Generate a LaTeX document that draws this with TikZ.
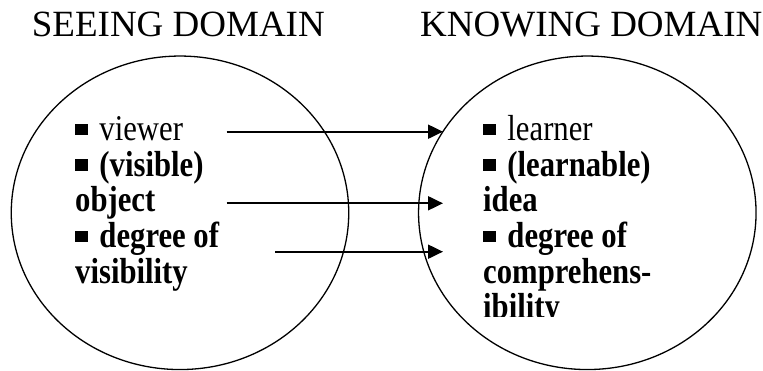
\documentclass[tikz,border=0pt]{standalone}
\usepackage{fontspec}
\setmainfont{Liberation Serif}
\usetikzlibrary{shapes.geometric, arrows.meta}

% small filled square used as the list bullet
\newcommand\sqbullet{\raisebox{0.15em}{\rule{0.42em}{0.32em}}\hspace{0.37em}}
% stack of lines with a fixed baseline distance, stretched vertically
\newcommand\stretchedlines[1]{\scalebox{1}[1.18]{\vtop{\baselineskip=30.2pt\lineskiplimit=-100pt\lineskip=0pt #1}}}

\tikzset{
  domainoval/.style={ellipse, draw, line width=1.3pt, inner sep=0pt,
                 minimum width=337.5pt, minimum height=313.5pt},
  heading/.style={anchor=base west, inner sep=0pt, font=\fontsize{37}{40}\selectfont},
  items/.style={anchor=base west, inner sep=0pt, font=\fontsize{30.7}{30.2}\selectfont},
  conn/.style={line width=2pt, -{Triangle[length=15pt, width=14pt]}}
}

\begin{document}
\begin{tikzpicture}[x=1pt, y=-1pt]
  \useasboundingbox (0,0) rectangle (763,371);

  % headings
  \node[heading] (seetitle) at (31.7,36.7) {SEEING DOMAIN};
  \node[heading] (knowtitle) at (420,36.7) {KNOWING DOMAIN};

  % the two domains
  \node[domainoval] (seeing) at (180,212.8) {};
  \node[domainoval] (knowing) at (587.3,212.8) {};

  % seeing domain terms
  \node[items] (seeitems) at (75,140.7) {\stretchedlines{%
    \hbox{\sqbullet viewer}%
    \hbox{\sqbullet\textbf{(visible)}}%
    \hbox{\textbf{object}}%
    \hbox{\sqbullet\textbf{degree of}}%
    \hbox{\textbf{visibility}}}};

  % knowing domain terms, cut off at the bottom of their frame
  \begin{scope}
    \clip (400,0) rectangle (763,316.7);
    \node[items] (knowitems) at (483,140.7) {\stretchedlines{%
      \hbox{\sqbullet learner}%
      \hbox{\sqbullet\textbf{(learnable)}}%
      \hbox{\textbf{idea}}%
      \hbox{\sqbullet\textbf{degree of}}%
      \hbox{\textbf{comprehens-}}%
      \hbox{\textbf{ibility}}}};
  \end{scope}

  % mapping arrows
  \coordinate (viewerout) at (226.7,131.7);
  \coordinate (learnerin) at (443,131.7);
  \coordinate (objectout) at (226.7,203.3);
  \coordinate (ideain) at (443,203.3);
  \coordinate (degreeout) at (275,251.7);
  \coordinate (degreein) at (443,251.7);
  \draw[conn] (viewerout) -- (learnerin);
  \draw[conn] (objectout) -- (ideain);
  \draw[conn] (degreeout) -- (degreein);
\end{tikzpicture}
\end{document}
